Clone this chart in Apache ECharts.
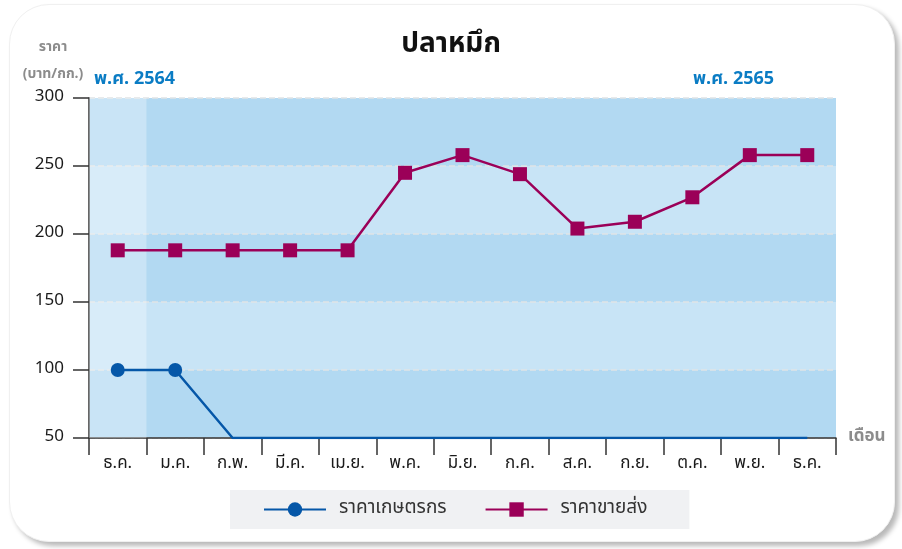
<!DOCTYPE html>
<html>
<head>
<meta charset="utf-8">
<script src="https://cdn.jsdelivr.net/npm/echarts@6/dist/echarts.min.js"></script>
<style>
	html, body { margin: 0; padding: 0; background: #fff; }
	#card {
		position: absolute; left: 9px; top: 4px; width: 884px; height: 536px;
		border-radius: 40px; background: #fff;
		border: 1px solid #f0f0f0;
		box-shadow: 4px 4px 5px rgba(0, 0, 0, 0.28);
	}
	#main { position: absolute; left: 0; top: 0; width: 902px; height: 549px; }
</style>
</head>
<body>
<div id="card"></div>
<div id="main"></div>
<script>
	let months = ['ธ.ค.', 'ม.ค.', 'ก.พ.', 'มี.ค.', 'เม.ย.', 'พ.ค.', 'มิ.ย.', 'ก.ค.', 'ส.ค.', 'ก.ย.', 'ต.ค.', 'พ.ย.', 'ธ.ค.'];
	let farmerPrice = [100, 100, 50, 50, 50, 50, 50, 50, 50, 50, 50, 50, 50];
	let wholesalePrice = [188, 188, 188, 188, 188, 245, 258, 244, 204, 209, 227, 258, 258];
	let seriesNames = ['ราคาเกษตรกร', 'ราคาขายส่ง'];
	let yearLabels = ['พ.ศ. 2564', 'พ.ศ. 2565'];
	// first column belongs to the previous year, drawn lighter
	let prevYearCol = [300, null, null, null, null, null, null, null, null, null, null, null, null];

	let font = "'Noto Sans Thai', 'Noto Sans', Tahoma, sans-serif";
	let myChart = echarts.init(document.getElementById('main'));

	let farmerData = [];
	for (let i = 0; i < farmerPrice.length; i++) {
		// points sitting on the axis floor have no marker
		if (farmerPrice[i] <= 50) {
			farmerData.push({ value: farmerPrice[i], symbol: 'none' });
		} else {
			farmerData.push(farmerPrice[i]);
		}
	}

	let option = {
		animation: false,
		textStyle: { fontFamily: font },
		title: {
			text: 'ปลาหมึก',
			left: 'center',
			top: 27,
			textStyle: { fontSize: 28, fontWeight: 'bold', color: '#111', fontFamily: font }
		},
		graphic: [{
			type: 'text', x: 53, y: 48,
			style: { text: 'ราคา', fill: '#8c8c8c', font: 'bold 14px ' + font, textAlign: 'center', textVerticalAlign: 'middle' }
		}, {
			type: 'text', x: 53, y: 75,
			style: { text: '(บาท/กก.)', fill: '#8c8c8c', font: 'bold 14px ' + font, textAlign: 'center', textVerticalAlign: 'middle' }
		}, {
			type: 'text', x: 94, y: 80,
			style: { text: yearLabels[0], fill: '#0a7cc4', font: 'bold 18px ' + font, textVerticalAlign: 'middle' }
		}, {
			type: 'text', x: 693, y: 80,
			style: { text: yearLabels[1], fill: '#0a7cc4', font: 'bold 18px ' + font, textVerticalAlign: 'middle' }
		}],
		grid: {
			left: 89,
			right: 66,
			top: 98,
			bottom: 111
		},
		legend: {
			left: 230,
			top: 490,
			backgroundColor: '#f0f1f3',
			padding: [10, 42, 10, 33],
			itemGap: 38,
			itemWidth: 62,
			itemHeight: 18,
			textStyle: { color: '#333', fontSize: 19, padding: [0, 0, 0, 8] },
			data: seriesNames
		},
		xAxis: {
			type: 'category',
			data: months,
			boundaryGap: true,
			name: 'เดือน',
			nameGap: 12,
			nameTextStyle: { color: '#8c8c8c', fontSize: 17, fontWeight: 'bold', verticalAlign: 'middle' },
			axisLine: { lineStyle: { color: '#333', width: 1.5 } },
			axisTick: { show: true, interval: 0, length: 17, lineStyle: { color: '#333', width: 1.5 } },
			axisLabel: { color: '#1a1a1a', fontSize: 17, margin: 18, interval: 0 }
		},
		yAxis: {
			type: 'value',
			min: 50,
			max: 300,
			interval: 50,
			axisLine: { show: true, lineStyle: { color: '#333', width: 1.5 } },
			axisTick: { show: true, length: 16, lineStyle: { color: '#333', width: 1.5 } },
			axisLabel: { color: '#1a1a1a', fontSize: 17, margin: 25 },
			splitLine: { show: true, lineStyle: { color: '#dfe3e6', type: 'dashed', width: 1.5 } },
			splitArea: { show: true, areaStyle: { color: ['#b2d9f2', '#c8e4f6'] } }
		},
		series: [{
			name: 'prev',
			type: 'bar',
			data: prevYearCol,
			barWidth: '100%',
			silent: true,
			z: 1,
			itemStyle: { color: 'rgba(255,255,255,0.3)' }
		}, {
			name: seriesNames[0],
			type: 'line',
			data: farmerData,
			symbol: 'circle',
			symbolSize: 14,
			z: 3,
			lineStyle: { color: '#0557a8', width: 2.5 },
			itemStyle: { color: '#0557a8' }
		}, {
			name: seriesNames[1],
			type: 'line',
			data: wholesalePrice,
			symbol: 'rect',
			symbolSize: 14,
			z: 4,
			lineStyle: { color: '#9b0058', width: 2.5 },
			itemStyle: { color: '#9b0058' }
		}]
	};
	myChart.setOption(option);
</script>
</body>
</html>
